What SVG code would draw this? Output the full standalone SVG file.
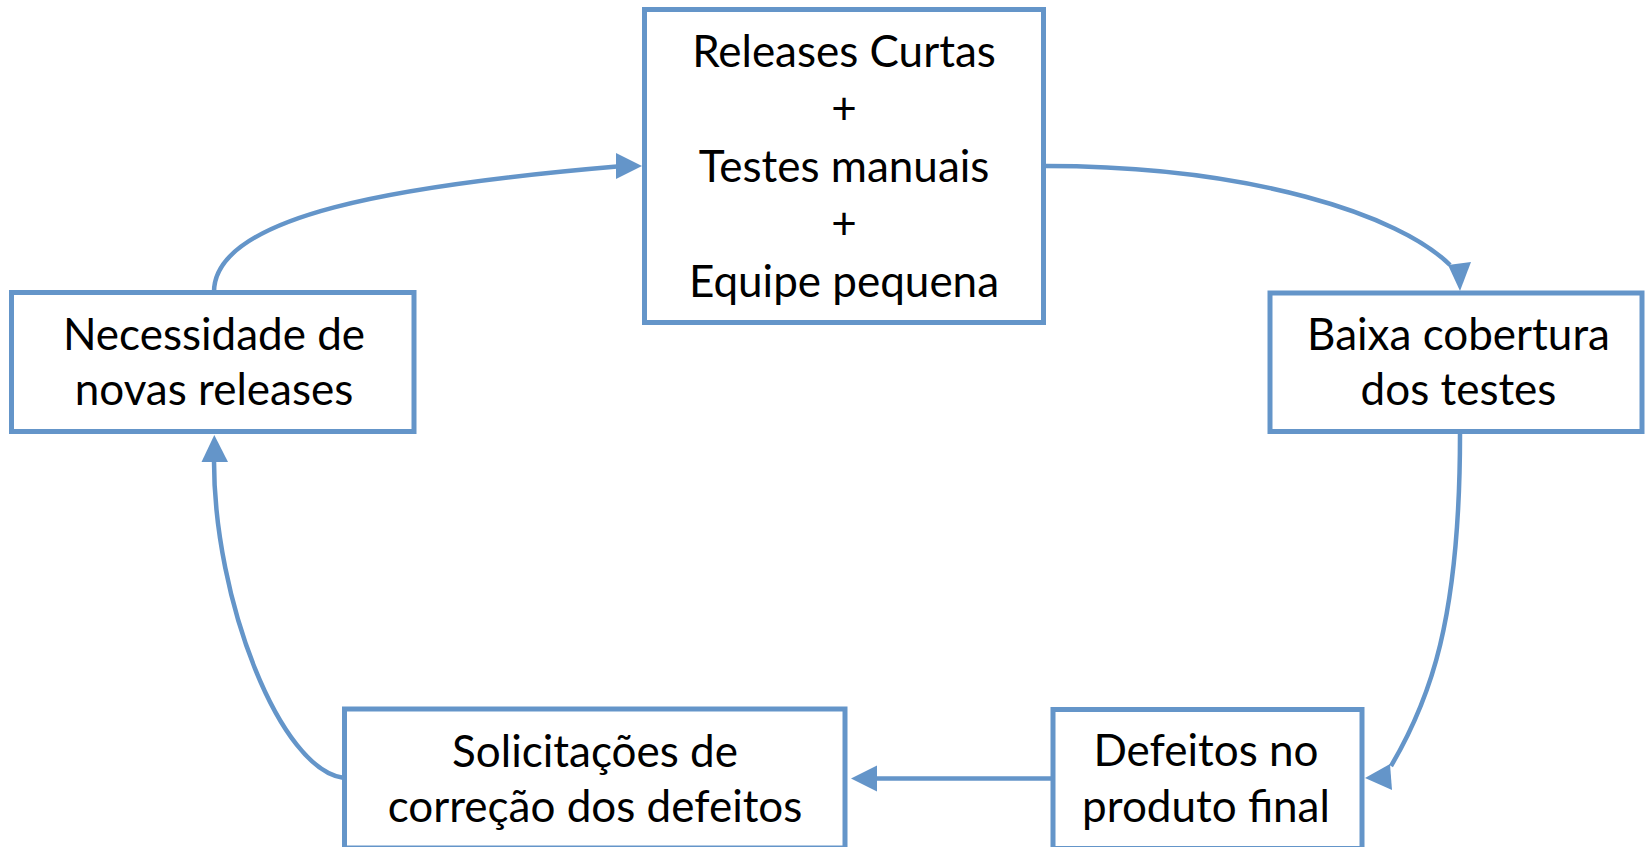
<svg xmlns="http://www.w3.org/2000/svg" width="1650" height="847" viewBox="0 0 1650 847">
<style>
.box{fill:#ffffff;stroke:#6495C9;stroke-width:5}
.conn{fill:none;stroke:#6495C9;stroke-width:4.5}
.head{fill:#6495C9;stroke:none}
text{font-family:Lato,"Noto Sans",sans-serif;font-size:44px;fill:#000;text-anchor:middle}
</style>
<rect width="1650" height="847" fill="#ffffff"/>
<g id="connectors">
<path class="conn" d="M214,292 C214,215 400,185 617,166.5"/>
<polygon class="head" points="642,166 616,153 616,179"/>
<path class="conn" d="M1046,166 C1250,166 1400,215 1450,265"/>
<polygon class="head" points="1460,291 1448,265 1471,262"/>
<path class="conn" d="M1460,434 C1460,620 1430,700 1391,766"/>
<polygon class="head" points="1365,778 1390,764 1392,790"/>
<path class="conn" d="M1053,778.5 L876,778.5"/>
<polygon class="head" points="851,778.5 877,765.5 877,791.5"/>
<path class="conn" d="M344,778 C280,770 214,600 214,461"/>
<polygon class="head" points="214.3,435 201.5,462 228,462"/>
</g>
<g id="node-releases">
<rect class="box" x="644.5" y="9.5" width="399" height="313"/>
<text x="844" y="66.7">Releases Curtas</text>
<text x="844" y="124.2">+</text>
<text x="844" y="181.7">Testes manuais</text>
<text x="844" y="239.2">+</text>
<text x="844" y="296.7">Equipe pequena</text>
</g>
<g id="node-baixa">
<rect class="box" x="1270" y="293" width="372" height="138.5"/>
<text x="1458.5" y="350">Baixa cobertura</text>
<text x="1458.5" y="405">dos testes</text>
</g>
<g id="node-defeitos">
<rect class="box" x="1053" y="709.5" width="309" height="139"/>
<text x="1206" y="766">Defeitos no</text>
<text x="1206" y="821.7">produto final</text>
</g>
<g id="node-solicitacoes">
<rect class="box" x="344.5" y="709" width="500.5" height="139"/>
<text x="595" y="766.7">Solicitações de</text>
<text x="595" y="821.7">correção dos defeitos</text>
</g>
<g id="node-necessidade">
<rect class="box" x="11.5" y="292.5" width="402.5" height="139"/>
<text x="214" y="350">Necessidade de</text>
<text x="214" y="405">novas releases</text>
</g>
</svg>
